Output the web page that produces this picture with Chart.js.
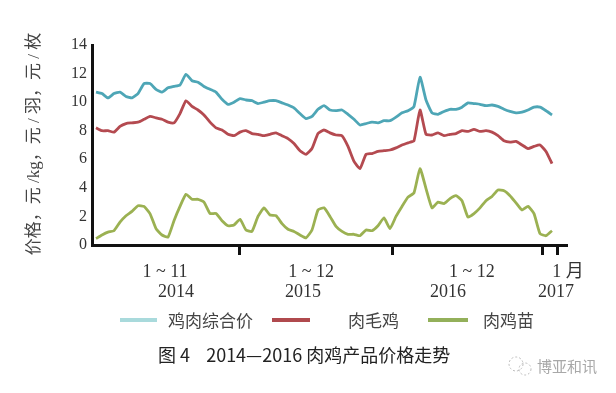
<!DOCTYPE html>
<html>
<head>
<meta charset="utf-8">
<title>2014—2016 肉鸡产品价格走势</title>
<script src="https://cdn.jsdelivr.net/npm/chart.js@4.4.1/dist/chart.umd.min.js"></script>
<style>
  body { margin: 0; background: #fff; }
  canvas { display: block; }
</style>
</head>
<body>
<canvas id="priceChart" width="616" height="393"></canvas>
<script>
// sample positions, in weeks from Jan 2014 (one reading every 2 weeks)
const weeks = [1, 3, 5, 7, 9, 11, 13, 15, 17, 19, 21, 23, 25, 27, 29, 31, 33, 35, 37, 39,
    41, 43, 45, 47, 49, 51, 53, 55, 57, 59, 61, 63, 65, 67, 69, 71, 73, 75, 77, 79,
    81, 83, 85, 87, 89, 91, 93, 95, 97, 99, 101, 103, 105, 107, 109, 111, 113, 115, 117, 119,
    121, 123, 125, 127, 129, 131, 133, 135, 137, 139, 141, 143, 145, 147, 149, 151, 153];

// 鸡肉综合价
const chickenMeat = [10.7, 10.6, 10.3, 10.6, 10.7, 10.4, 10.3, 10.6, 11.3, 11.3, 10.9, 10.7, 11.0, 11.1, 11.2, 11.95, 11.5, 11.4, 11.1, 10.9,
    10.7, 10.2, 9.85, 10.0, 10.25, 10.15, 10.1, 9.9, 10.0, 10.1, 10.1, 9.95, 9.8, 9.6, 9.2, 8.85, 9.0, 9.5, 9.75, 9.45,
    9.4, 9.45, 9.15, 8.8, 8.4, 8.5, 8.6, 8.55, 8.7, 8.7, 8.95, 9.25, 9.4, 9.7, 11.75, 10.15, 9.25, 9.15, 9.35, 9.5,
    9.5, 9.65, 9.95, 9.9, 9.85, 9.75, 9.8, 9.7, 9.5, 9.35, 9.25, 9.3, 9.45, 9.65, 9.65, 9.4, 9.1];

// 肉毛鸡
const liveBroiler = [8.2, 8.0, 8.0, 7.9, 8.3, 8.5, 8.55, 8.6, 8.8, 9.0, 8.9, 8.8, 8.6, 8.55, 9.2, 10.1, 9.7, 9.45, 9.1, 8.6,
    8.2, 8.05, 7.75, 7.65, 7.9, 8.0, 7.8, 7.75, 7.65, 7.75, 7.85, 7.65, 7.45, 7.1, 6.6, 6.35, 6.75, 7.8, 8.05, 7.85,
    7.7, 7.65, 6.9, 5.85, 5.35, 6.35, 6.4, 6.55, 6.6, 6.65, 6.8, 7.0, 7.15, 7.3, 9.45, 7.75, 7.7, 7.85, 7.65, 7.75,
    7.8, 8.0, 7.95, 8.1, 7.95, 8.0, 7.9, 7.65, 7.3, 7.2, 7.25, 7.0, 6.75, 6.9, 7.0, 6.55, 5.7];

// 肉鸡苗
const chicks = [0.45, 0.7, 0.9, 1.0, 1.6, 2.05, 2.35, 2.75, 2.7, 2.2, 1.15, 0.7, 0.55, 1.7, 2.7, 3.55, 3.2, 3.2, 3.0, 2.2,
    2.2, 1.7, 1.35, 1.4, 1.8, 1.05, 0.95, 2.0, 2.6, 2.1, 2.05, 1.5, 1.1, 0.95, 0.7, 0.5, 1.05, 2.45, 2.6, 2.0,
    1.3, 0.95, 0.75, 0.75, 0.65, 1.05, 1.0, 1.35, 1.9, 1.15, 2.0, 2.7, 3.35, 3.65, 5.35, 3.95, 2.6, 3.0, 2.9, 3.25,
    3.45, 3.1, 1.95, 2.2, 2.6, 3.1, 3.4, 3.85, 3.8, 3.45, 2.95, 2.45, 2.7, 2.2, 0.8, 0.65, 1.0];

const seriesNames = ['鸡肉综合价', '肉毛鸡', '肉鸡苗'];

// year boundaries on the time axis (weeks) and the period captions
const yearBreaks = [48.7, 100, 150, 154.7];
const periodLabels = ['1 ~ 11', '1 ~ 12', '1 ~ 12', '1 月'];
const yearLabels = ['2014', '2015', '2016', '2017'];

const yTicks = [0, 2, 4, 6, 8, 10, 12, 14];

const yTitle = '价格，元 /kg，元 / 羽，元 / 枚';
const caption = '图 4    2014—2016 肉鸡产品价格走势';
const watermark = '博亚和讯';

function toPoints(values) {
    return weeks.map((w, i) => ({ x: w, y: values[i] }));
}

// text around the plot: x captions, legend, y title, figure caption
const decorPlugin = {
    id: 'decor',
    afterDraw(chart) {
        const ctx = chart.ctx;
        const xs = chart.scales.x;
        ctx.save();

        // period / year captions under the axis
        const periodPos = [24, 72.7, 126.3, 158.3];
        const yearPos = [27.7, 70, 118.3, 154.3];
        ctx.fillStyle = '#333';
        ctx.textAlign = 'center';
        ctx.textBaseline = 'middle';
        ctx.font = '18px "Liberation Serif", "Noto Sans CJK SC"';
        periodLabels.forEach((t, i) => ctx.fillText(t, xs.getPixelForValue(periodPos[i]), 272));
        yearLabels.forEach((t, i) => ctx.fillText(t, xs.getPixelForValue(yearPos[i]), 292));

        // y axis title
        ctx.save();
        ctx.translate(35, 144);
        ctx.rotate(-Math.PI / 2);
        ctx.font = '17px "Liberation Serif", "Noto Sans CJK SC"';
        ctx.fillStyle = '#444';
        ctx.fillText(yTitle, 0, 0);
        ctx.restore();

        // legend
        const swatches = [
            { x0: 120, x1: 157, tx: 168, color: '#a9dadc' },
            { x0: 272, x1: 310, tx: 348, color: '#b04a4e' },
            { x0: 428, x1: 468, tx: 483, color: '#93b05a' }
        ];
        ctx.font = '17px "Noto Sans CJK SC"';
        ctx.textAlign = 'left';
        swatches.forEach((s, i) => {
            ctx.fillStyle = s.color;
            ctx.fillRect(s.x0, 318, s.x1 - s.x0, 4);
            ctx.fillStyle = '#444';
            ctx.fillText(seriesNames[i], s.tx, 321);
        });

        // figure caption
        ctx.font = '18px "Noto Sans CJK SC"';
        ctx.fillStyle = '#222';
        ctx.fillText(caption, 158, 355);

        // watermark
        ctx.strokeStyle = '#bbb';
        ctx.lineWidth = 1;
        ctx.setLineDash([2, 2]);
        ctx.beginPath();
        ctx.arc(516, 364, 7, 0, Math.PI * 2);
        ctx.stroke();
        ctx.beginPath();
        ctx.arc(525, 369, 6, 0, Math.PI * 2);
        ctx.stroke();
        ctx.setLineDash([]);
        ctx.font = '15px "Noto Sans CJK SC"';
        ctx.fillStyle = '#a8a8a8';
        ctx.fillText(watermark, 537, 366);

        ctx.restore();
    }
};

document.addEventListener('DOMContentLoaded', function() {
    const ctx = document.getElementById('priceChart');
    new Chart(ctx, {
        type: 'line',
        data: {
            datasets: [{
                label: seriesNames[0],
                data: toPoints(chickenMeat),
                borderColor: '#4ea6b6',
                borderWidth: 2.8,
                pointRadius: 0,
                tension: 0.15
            }, {
                label: seriesNames[1],
                data: toPoints(liveBroiler),
                borderColor: '#b44a50',
                borderWidth: 2.8,
                pointRadius: 0,
                tension: 0.15
            }, {
                label: seriesNames[2],
                data: toPoints(chicks),
                borderColor: '#9bb152',
                borderWidth: 2.8,
                pointRadius: 0,
                tension: 0.15
            }]
        },
        options: {
            responsive: false,
            animation: false,
            layout: {
                padding: { left: 0, right: 49, top: 45, bottom: 128 }
            },
            plugins: {
                legend: { display: false },
                tooltip: { enabled: false }
            },
            scales: {
                x: {
                    type: 'linear',
                    min: -0.33,
                    max: 158,
                    afterBuildTicks: function(scale) {
                        scale.ticks = yearBreaks.map(v => ({ value: v }));
                    },
                    afterFit: function(scale) {
                        scale.height = 20;
                    },
                    ticks: { display: false },
                    grid: {
                        drawOnChartArea: false,
                        drawTicks: true,
                        tickLength: 10,
                        tickWidth: 3,
                        tickColor: '#111'
                    },
                    border: { width: 3, color: '#111' }
                },
                y: {
                    min: 0,
                    max: 14,
                    afterBuildTicks: function(scale) {
                        scale.ticks = yTicks.map(v => ({ value: v }));
                    },
                    afterFit: function(scale) {
                        scale.width = 92;
                    },
                    ticks: {
                        color: '#333',
                        padding: 5,
                        font: { family: '"Liberation Serif"', size: 16 }
                    },
                    grid: { drawOnChartArea: false, drawTicks: false },
                    border: { width: 3, color: '#111' }
                }
            }
        },
        plugins: [decorPlugin]
    });
});
</script>
</body>
</html>
